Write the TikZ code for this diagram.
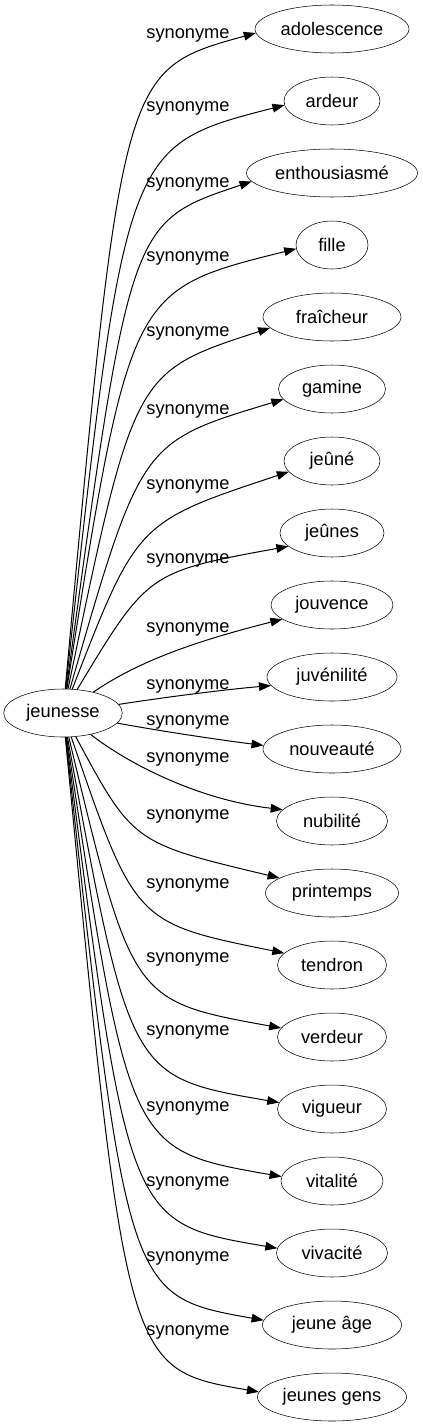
\documentclass[tikz,border=0pt]{standalone}
\usepackage{fontspec}
\setmainfont{Liberation Sans}
\usetikzlibrary{arrows.meta,shapes.geometric}
\begin{document}
\begin{tikzpicture}[x=0.75pt,y=-0.75pt,
    word/.style={draw,ellipse,inner sep=0pt,minimum height=36pt,font=\fontsize{13.7}{16}\selectfont},
    rel/.style={anchor=base,inner sep=0pt,font=\fontsize{13.7}{16}\selectfont},
    syn/.style={line width=0.75pt,-{Triangle[length=9pt,width=6.5pt]}}]
  \useasboundingbox (0,0) rectangle (423,1427);
  \node[word,minimum width=89pt] (jeunesse) at (63,713) {jeunesse};
  % target, width, label y, two control points, end angle on the target
  \foreach \i/\txt/\w/\ly/\ax/\ay/\bx/\by/\e in {
      1/adolescence/154/34/122/70/122/70/183,
      2/ardeur/96/107/125/146/125/146/185,
      3/enthousiasmé/171/182/130/222/130/222/186,
      4/fille/72/256/130/290/130/290/186,
      5/fraîcheur/138/331/134/372/134/372/190,
      6/gamine/107/409/141/442/141/442/192,
      7/jeûné/96/484/137/522/137/522/194,
      8/jeûnes/104/558/148/572/148/572/197,
      9/jouvence/122/627/140/660/200/640/196,
      10/juvénilité/130/684/160/698/220/690/188,
      11/nouveauté/138/720/160/731/220/740/177,
      12/nubilité/111/757/130/765/200/800/167,
      13/printemps/133/814/133/843/133/843/164,
      14/tendron/109/883/135/923/135/923/166,
      15/verdeur/109/957/132/1001/132/1001/170,
      16/vigueur/109/1030/130/1077/130/1077/173,
      17/vitalité/102/1106/129/1150/129/1150/175,
      18/vivacité/111/1181/128/1223/128/1223/175,
      19/jeune âge/139/1256/127/1296/127/1296/176,
      20/jeunes gens/149/1330/126/1369/126/1369/176}{
    \node[word,minimum width=\w*0.75pt] (t\i) at (332,{29+72*(\i-1)}) {\txt};
    \node[rel] (l\i) at (188,\ly+5) {synonyme};
    \draw[syn] (jeunesse) .. controls (\ax,\ay) and (\bx,\by) .. (t\i.\e);
  }
\end{tikzpicture}
\end{document}
